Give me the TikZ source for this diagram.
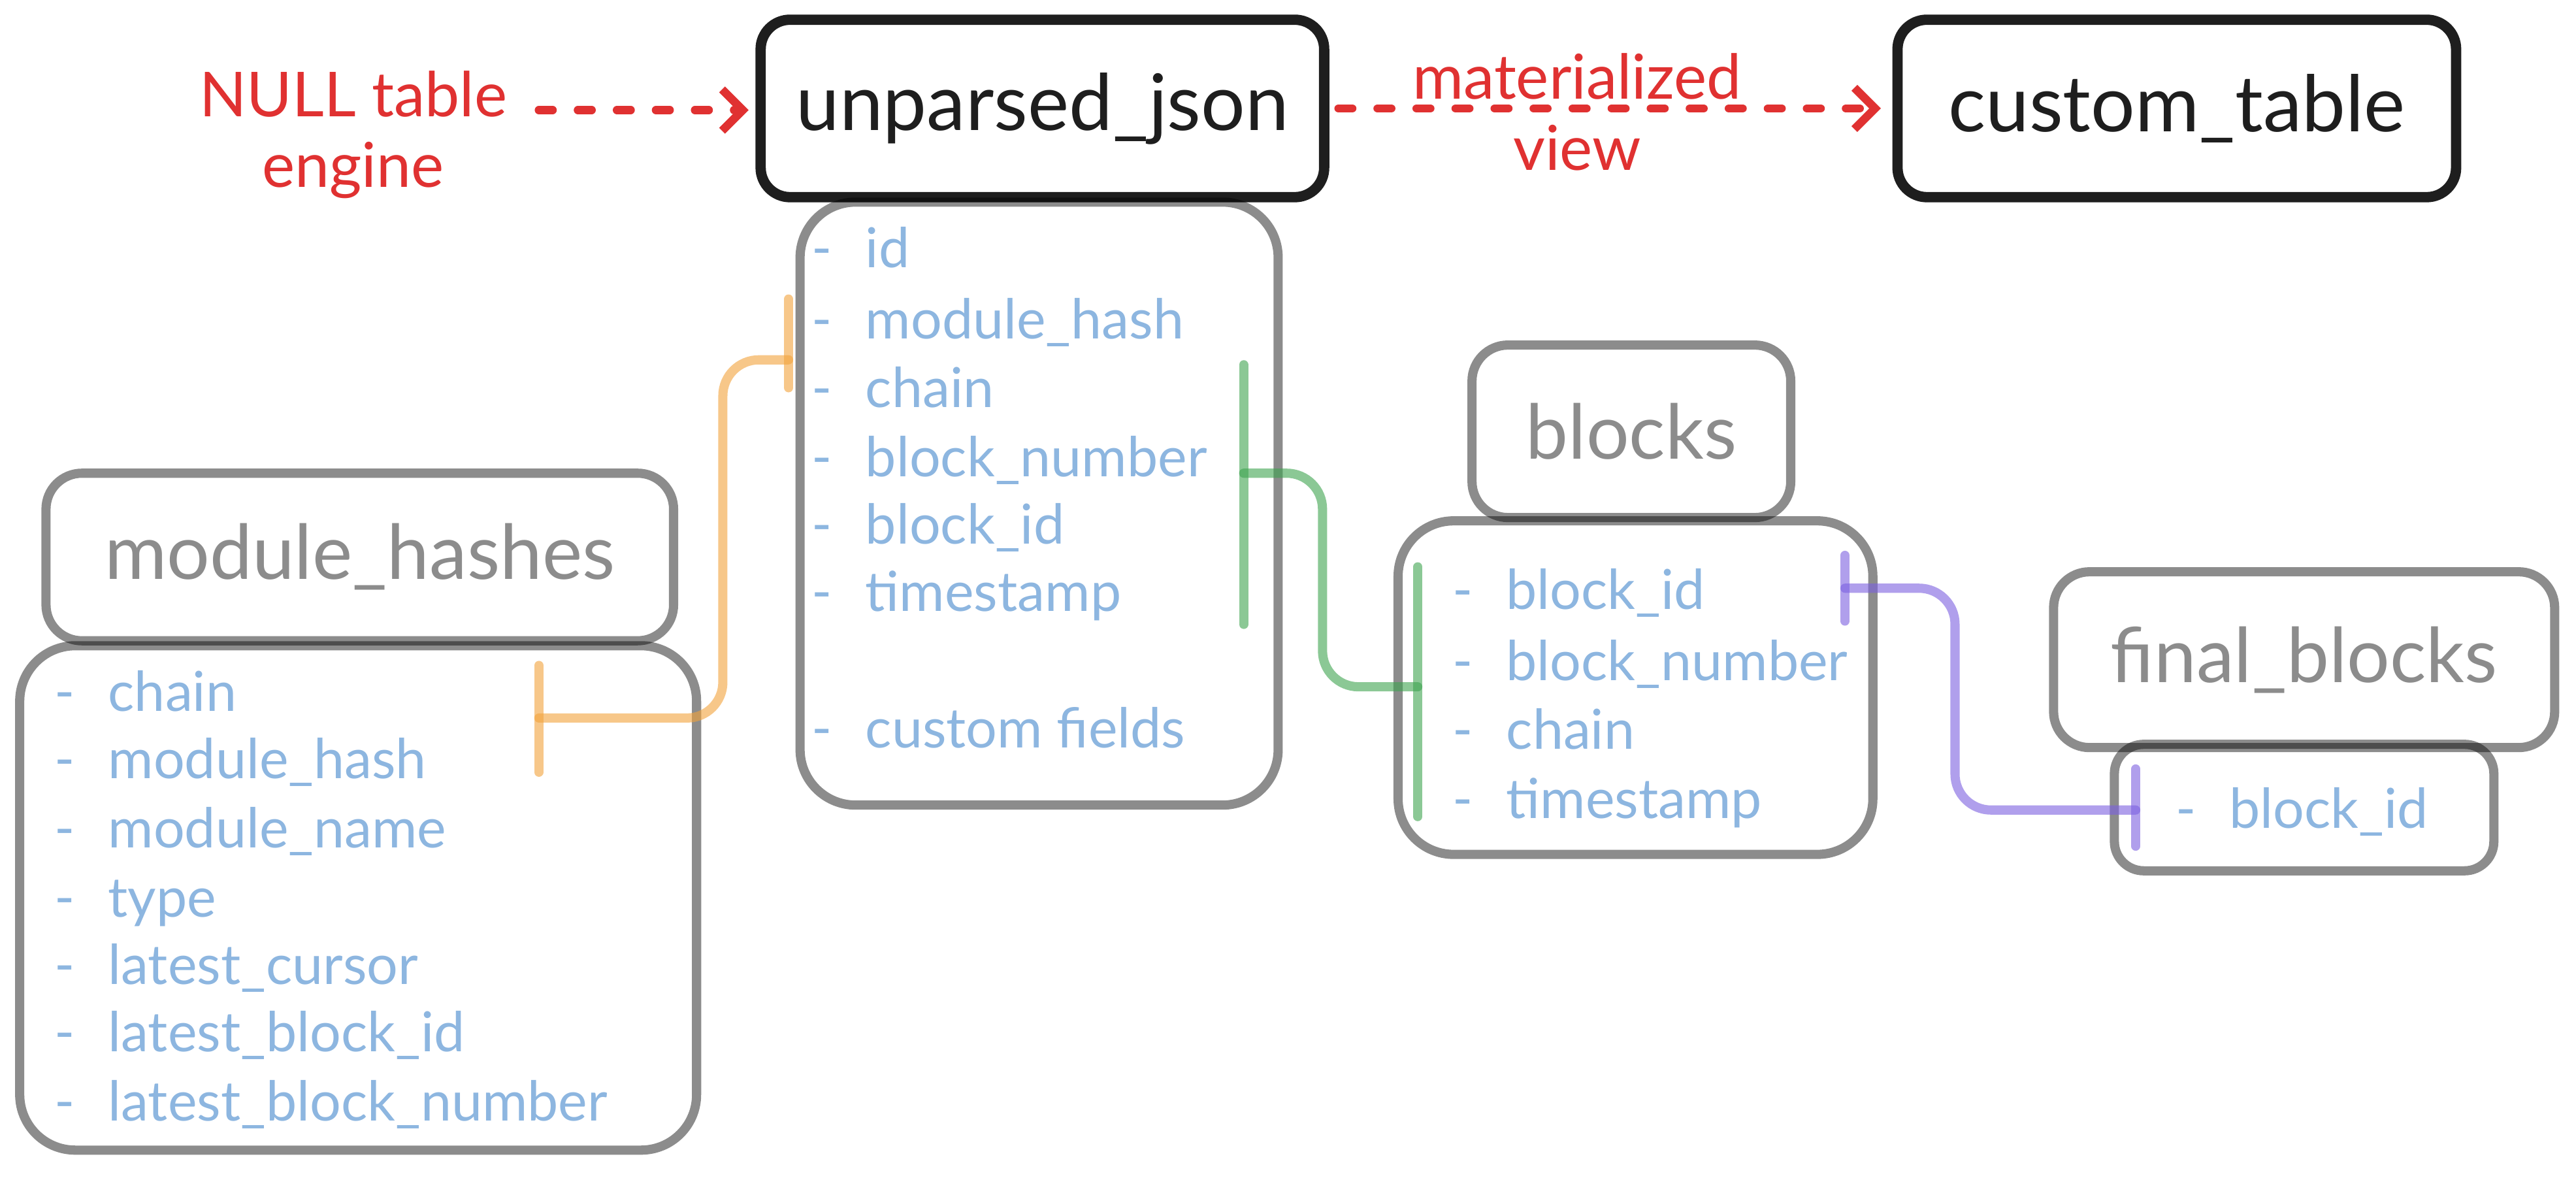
\documentclass[tikz,border=0pt]{standalone}
\usepackage{fontspec}
\setmainfont{Lato}
\usetikzlibrary{arrows.meta,calc,fit}
\definecolor{ink}{HTML}{1E1E1E}
\definecolor{redink}{HTML}{E03131}
\definecolor{fldblue}{HTML}{8DB6E0}
\definecolor{orng}{HTML}{F2A23A}
\definecolor{grn}{HTML}{3DA34F}
\definecolor{prpl}{HTML}{7B5FE0}
\newcommand\fld[1]{-\hspace{.6em}#1}
\tikzset{
 tbl/.style={draw=ink,line width=4.5pt,rounded corners=.45cm,inner sep=0pt},
 tname/.style={text=ink,font=\fontsize{34}{36}\selectfont,inner sep=0pt},
 hdr/.style={draw=black,draw opacity=.45,line width=4pt,rounded corners=.55cm,inner sep=0pt},
 hname/.style={text=black!45,font=\fontsize{33}{36}\selectfont,inner sep=0pt},
 flds/.style={draw=black,draw opacity=.45,line width=4pt,rounded corners=.85cm,inner sep=0pt},
 fld/.style={anchor=base west,inner sep=0pt,text=fldblue,font=\fontsize{24}{26}\selectfont},
 note/.style={text=redink,font=\fontsize{27}{31}\selectfont,inner sep=0pt,align=center},
 flow/.style={redink,line width=3.6pt,line cap=round,dash pattern=on 6pt off 11pt,-{Straight Barb[length=9pt,width=18pt,line width=3.6pt]}},
 rel/.style={line width=4pt,line cap=round,rounded corners=.55cm,draw opacity=.6},
}
\begin{document}
\begin{tikzpicture}[x=0.02515cm,y=-0.02515cm]
\useasboundingbox(0,0)rectangle(1568,718);
\node[tbl,fit={(463,12)(806,120)}](uj){};\node[tname](ujt)at(uj){unparsed\_json};
\node[tbl,fit={(1155,12)(1495,120)}](ct){};\node[tname](ctt)at(ct){custom\_table};
\node[note](nt)at(215,82){NULL table\\engine};\node[note](mv)at(960,68){materialized\\view};
\coordinate(src)at(328,67);
\draw[flow,shorten >=3pt](src)--(src-|uj.west);\draw[flow,shorten <=4pt,shorten >=5pt](uj.east)--(ct.west);
\node[flds,fit={(487,123)(778,490)}](ujf){};
\node[fld](uj1)at(494,163){\fld{id}};\node[fld](uj2)at(494,206){\fld{module\_hash}};\node[fld](uj3)at(494,248){\fld{chain}};
\node[fld](uj4)at(494,290){\fld{block\_number}};\node[fld](uj5)at(494,331){\fld{block\_id}};\node[fld](uj6)at(494,372){\fld{timestamp}};
\node[fld](uj7)at(494,455){\fld{custom fields}};
\node[hdr,fit={(28,288)(410,390)}](mh){};\node[hname](mht)at(mh){module\_hashes};
\node[flds,fit={(12,393)(424,700)}](mhf){};
\node[fld](mh1)at(33,433){\fld{chain}};\node[fld](mh2)at(33,474){\fld{module\_hash}};\node[fld](mh3)at(33,516){\fld{module\_name}};
\node[fld](mh4)at(33,558){\fld{type}};\node[fld](mh5)at(33,599){\fld{latest\_cursor}};\node[fld](mh6)at(33,640){\fld{latest\_block\_id}};
\node[fld](mh7)at(33,682){\fld{latest\_block\_number}};
\node[hdr,fit={(896,210)(1090,315)}](bl){};\node[hname](blt)at(bl){blocks};
\node[flds,fit={(851,317)(1140,520)}](blf){};
\node[fld](bl1)at(884,371){\fld{block\_id}};\node[fld](bl2)at(884,414){\fld{block\_number}};\node[fld](bl3)at(884,456){\fld{chain}};
\node[fld](bl4)at(884,498){\fld{timestamp}};
\node[hdr,fit={(1250,348)(1555,455)}](fb){};\node[hname](fbt)at(fb){final\_blocks};
\node[flds,rounded corners=.45cm,fit={(1287,453)(1518,530)}](fbf){};
\node[fld](fb1)at(1324,504){\fld{block\_id}};
\coordinate(oA)at(328,437);\coordinate(oB)at(480,219);
\draw[rel,orng](oA)-|($(oB)+(-40,0)$)--(oB);\draw[rel,orng]($(oA)+(0,-32)$)--($(oA)+(0,33)$);\draw[rel,orng]($(oB)+(0,-37)$)--($(oB)+(0,17)$);
\coordinate(gA)at(757,288);\coordinate(gB)at(863,418);
\draw[rel,grn](gA)-|($(gB)+(-58,0)$)--(gB);\draw[rel,grn]($(gA)+(0,-66)$)--($(gA)+(0,92)$);\draw[rel,grn]($(gB)+(0,-73)$)--($(gB)+(0,79)$);
\coordinate(pA)at(1123,358);\coordinate(pB)at(1300,493);
\draw[rel,prpl](pA)-|($(pB)+(-110,0)$)--(pB);\draw[rel,prpl]($(pA)+(0,-20)$)--($(pA)+(0,20)$);\draw[rel,prpl]($(pB)+(0,-25)$)--($(pB)+(0,22)$);
\end{tikzpicture}
\end{document}
